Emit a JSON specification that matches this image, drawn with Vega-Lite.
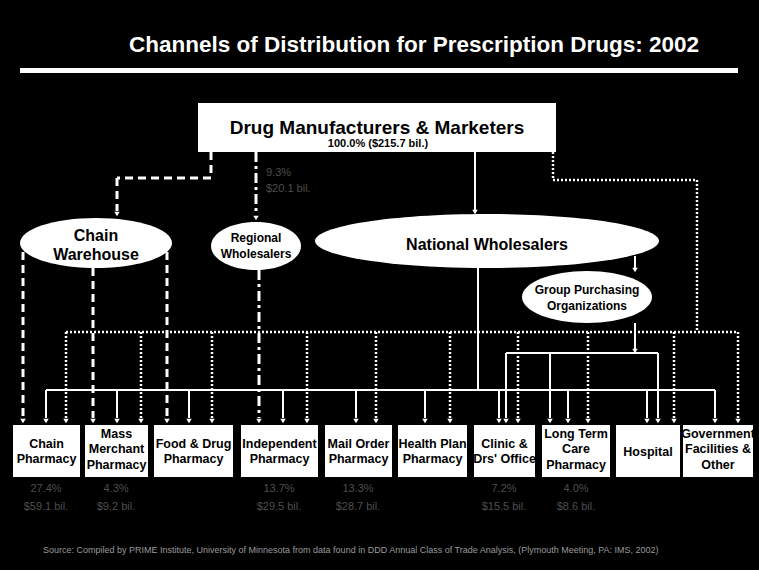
{
  "$schema": "https://vega.github.io/schema/vega-lite/v6.json",
  "width": 759,
  "height": 570,
  "autosize": {"type": "fit", "contains": "padding"},
  "padding": 0,
  "background": "#000000",
  "config": {"view": {"stroke": null}, "text": {"font": "Liberation Sans"}},
  "datasets": {
    "rects": [
      {"x": 20, "x2": 738, "y": 68, "y2": 73},
      {"x": 198, "x2": 556, "y": 103, "y2": 152},
      {"x": 13, "x2": 80, "y": 425, "y2": 477},
      {"x": 85, "x2": 148, "y": 425, "y2": 477},
      {"x": 154, "x2": 233, "y": 425, "y2": 477},
      {"x": 241, "x2": 318, "y": 425, "y2": 477},
      {"x": 325, "x2": 392, "y": 425, "y2": 477},
      {"x": 398, "x2": 467, "y": 425, "y2": 477},
      {"x": 474, "x2": 535, "y": 425, "y2": 477},
      {"x": 542, "x2": 610, "y": 425, "y2": 477},
      {"x": 616, "x2": 680, "y": 425, "y2": 477},
      {"x": 683, "x2": 753, "y": 425, "y2": 477}
    ],
    "solid": [
      {"x": 475, "y": 152, "x2": 475, "y2": 210},
      {"x": 478, "y": 268, "x2": 478, "y2": 390},
      {"x": 46, "y": 390, "x2": 715, "y2": 390},
      {"x": 46, "y": 390, "x2": 46, "y2": 418},
      {"x": 117, "y": 390, "x2": 117, "y2": 418},
      {"x": 189, "y": 390, "x2": 189, "y2": 418},
      {"x": 283, "y": 390, "x2": 283, "y2": 418},
      {"x": 356, "y": 390, "x2": 356, "y2": 418},
      {"x": 425, "y": 390, "x2": 425, "y2": 418},
      {"x": 499, "y": 390, "x2": 499, "y2": 418},
      {"x": 568, "y": 390, "x2": 568, "y2": 418},
      {"x": 647, "y": 390, "x2": 647, "y2": 418},
      {"x": 715, "y": 390, "x2": 715, "y2": 418},
      {"x": 635, "y": 256, "x2": 635, "y2": 268},
      {"x": 635, "y": 323, "x2": 635, "y2": 349},
      {"x": 506, "y": 353, "x2": 658, "y2": 353},
      {"x": 506, "y": 353, "x2": 506, "y2": 418},
      {"x": 550, "y": 353, "x2": 550, "y2": 418},
      {"x": 658, "y": 353, "x2": 658, "y2": 418}
    ],
    "dashed": [
      {"x": 211, "y": 152, "x2": 211, "y2": 178},
      {"x": 211, "y": 178, "x2": 117, "y2": 178},
      {"x": 117, "y": 178, "x2": 117, "y2": 211},
      {"x": 23, "y": 252, "x2": 23, "y2": 418},
      {"x": 93, "y": 268, "x2": 93, "y2": 418},
      {"x": 167, "y": 252, "x2": 167, "y2": 418}
    ],
    "dashdot": [
      {"x": 256, "y": 152, "x2": 256, "y2": 215},
      {"x": 259, "y": 270, "x2": 259, "y2": 418}
    ],
    "dotted": [
      {"x": 553, "y": 152, "x2": 553, "y2": 180},
      {"x": 553, "y": 180, "x2": 697, "y2": 180},
      {"x": 697, "y": 180, "x2": 697, "y2": 332},
      {"x": 66, "y": 332, "x2": 738, "y2": 332},
      {"x": 66, "y": 332, "x2": 66, "y2": 418},
      {"x": 141, "y": 332, "x2": 141, "y2": 418},
      {"x": 212, "y": 332, "x2": 212, "y2": 418},
      {"x": 307, "y": 332, "x2": 307, "y2": 418},
      {"x": 376, "y": 332, "x2": 376, "y2": 418},
      {"x": 450, "y": 332, "x2": 450, "y2": 418},
      {"x": 518, "y": 332, "x2": 518, "y2": 418},
      {"x": 588, "y": 332, "x2": 588, "y2": 418},
      {"x": 674, "y": 332, "x2": 674, "y2": 418},
      {"x": 738, "y": 332, "x2": 738, "y2": 418}
    ],
    "arrows": [
      {"x": 23, "y": 421}, {"x": 46, "y": 421}, {"x": 66, "y": 421}, {"x": 93, "y": 421},
      {"x": 117, "y": 421}, {"x": 141, "y": 421}, {"x": 167, "y": 421}, {"x": 189, "y": 421},
      {"x": 212, "y": 421}, {"x": 259, "y": 421}, {"x": 283, "y": 421}, {"x": 307, "y": 421},
      {"x": 356, "y": 421}, {"x": 376, "y": 421}, {"x": 425, "y": 421}, {"x": 450, "y": 421},
      {"x": 499, "y": 421}, {"x": 506, "y": 421}, {"x": 518, "y": 421}, {"x": 550, "y": 421},
      {"x": 568, "y": 421}, {"x": 588, "y": 421}, {"x": 647, "y": 421}, {"x": 658, "y": 421},
      {"x": 674, "y": 421}, {"x": 715, "y": 421}, {"x": 738, "y": 421},
      {"x": 117, "y": 214}, {"x": 256, "y": 218}, {"x": 475, "y": 212},
      {"x": 635, "y": 270}, {"x": 635, "y": 351}
    ],
    "title": [{"x": 414, "y": 52, "t": "Channels of Distribution for Prescription Drugs: 2002"}],
    "topMain": [{"x": 377, "y": 134, "t": "Drug Manufacturers & Marketers"}],
    "topSub": [{"x": 378, "y": 147, "t": "100.0% ($215.7 bil.)"}],
    "bigEllipseText": [
      {"x": 96, "y": 241, "t": "Chain"},
      {"x": 96, "y": 260, "t": "Warehouse"},
      {"x": 487, "y": 250, "t": "National Wholesalers"}
    ],
    "smallEllipseText": [
      {"x": 256, "y": 242, "t": "Regional"},
      {"x": 256, "y": 258, "t": "Wholesalers"},
      {"x": 587, "y": 294, "t": "Group Purchasing"},
      {"x": 587, "y": 310, "t": "Organizations"}
    ],
    "boxText": [
      {"x": 46.5, "y": 448, "t": "Chain"}, {"x": 46.5, "y": 463, "t": "Pharmacy"},
      {"x": 116.5, "y": 438, "t": "Mass"}, {"x": 116.5, "y": 453, "t": "Merchant"}, {"x": 116.5, "y": 469, "t": "Pharmacy"},
      {"x": 193.5, "y": 448, "t": "Food & Drug"}, {"x": 193.5, "y": 463, "t": "Pharmacy"},
      {"x": 279.5, "y": 448, "t": "Independent"}, {"x": 279.5, "y": 463, "t": "Pharmacy"},
      {"x": 358.5, "y": 448, "t": "Mail Order"}, {"x": 358.5, "y": 463, "t": "Pharmacy"},
      {"x": 432.5, "y": 448, "t": "Health Plan"}, {"x": 432.5, "y": 463, "t": "Pharmacy"},
      {"x": 504.5, "y": 448, "t": "Clinic &"}, {"x": 504.5, "y": 463, "t": "Drs' Office"},
      {"x": 576, "y": 438, "t": "Long Term"}, {"x": 576, "y": 453, "t": "Care"}, {"x": 576, "y": 469, "t": "Pharmacy"},
      {"x": 648, "y": 456, "t": "Hospital"},
      {"x": 718, "y": 438, "t": "Government"}, {"x": 718, "y": 453, "t": "Facilities &"}, {"x": 718, "y": 469, "t": "Other"}
    ],
    "pct": [
      {"x": 46, "y": 492, "t": "27.4%"}, {"x": 46, "y": 510, "t": "$59.1 bil."},
      {"x": 116, "y": 492, "t": "4.3%"}, {"x": 116, "y": 510, "t": "$9.2 bil."},
      {"x": 279, "y": 492, "t": "13.7%"}, {"x": 279, "y": 510, "t": "$29.5 bil."},
      {"x": 358, "y": 492, "t": "13.3%"}, {"x": 358, "y": 510, "t": "$28.7 bil."},
      {"x": 504, "y": 492, "t": "7.2%"}, {"x": 504, "y": 510, "t": "$15.5 bil."},
      {"x": 576, "y": 492, "t": "4.0%"}, {"x": 576, "y": 510, "t": "$8.6 bil."}
    ],
    "pctLeft": [
      {"x": 266, "y": 176, "t": "9.3%"}, {"x": 266, "y": 192, "t": "$20.1 bil."}
    ],
    "source": [{"x": 43, "y": 553, "t": "Source: Compiled by PRIME Institute, University of Minnesota from data found in DDD Annual Class of Trade Analysis, (Plymouth Meeting, PA: IMS, 2002)"}]
  },
  "encoding": {
    "x": {"field": "x", "type": "quantitative", "scale": {"domain": [0, 759], "nice": false, "zero": false}, "axis": null},
    "y": {"field": "y", "type": "quantitative", "scale": {"domain": [0, 570], "nice": false, "zero": false, "reverse": true}, "axis": null}
  },
  "layer": [
    {"data": {"name": "rects"}, "mark": {"type": "rect", "color": "#ffffff"}, "encoding": {"x2": {"field": "x2"}, "y2": {"field": "y2"}}},
    {"data": {"values": [{"x": 96, "y": 243}]}, "mark": {"type": "point", "shape": "M-1,0C-1,-0.1817 -0.5523,-0.329 0,-0.329C0.5523,-0.329 1,-0.1817 1,0C1,0.1817 0.5523,0.329 0,0.329C-0.5523,0.329 -1,0.1817 -1,0Z", "size": 23104, "filled": true, "fill": "#ffffff", "opacity": 1, "strokeWidth": 0}},
    {"data": {"values": [{"x": 256, "y": 246}]}, "mark": {"type": "point", "shape": "M-1,0C-1,-0.2944 -0.5523,-0.533 0,-0.533C0.5523,-0.533 1,-0.2944 1,0C1,0.2944 0.5523,0.533 0,0.533C-0.5523,0.533 -1,0.2944 -1,0Z", "size": 8100, "filled": true, "fill": "#ffffff", "opacity": 1, "strokeWidth": 0}},
    {"data": {"values": [{"x": 487, "y": 241}]}, "mark": {"type": "point", "shape": "M-1,0C-1,-0.0867 -0.5523,-0.157 0,-0.157C0.5523,-0.157 1,-0.0867 1,0C1,0.0867 0.5523,0.157 0,0.157C-0.5523,0.157 -1,0.0867 -1,0Z", "size": 118336, "filled": true, "fill": "#ffffff", "opacity": 1, "strokeWidth": 0}},
    {"data": {"values": [{"x": 587, "y": 297}]}, "mark": {"type": "point", "shape": "M-1,0C-1,-0.2209 -0.5523,-0.4 0,-0.4C0.5523,-0.4 1,-0.2209 1,0C1,0.2209 0.5523,0.4 0,0.4C-0.5523,0.4 -1,0.2209 -1,0Z", "size": 16900, "filled": true, "fill": "#ffffff", "opacity": 1, "strokeWidth": 0}},
    {"data": {"name": "solid"}, "mark": {"type": "rule", "color": "#ffffff", "strokeWidth": 2}, "encoding": {"x2": {"field": "x2"}, "y2": {"field": "y2"}}},
    {"data": {"name": "dashed"}, "mark": {"type": "rule", "color": "#ffffff", "strokeWidth": 3, "strokeDash": [8, 5]}, "encoding": {"x2": {"field": "x2"}, "y2": {"field": "y2"}}},
    {"data": {"name": "dashdot"}, "mark": {"type": "rule", "color": "#ffffff", "strokeWidth": 3, "strokeDash": [10, 4, 3, 4]}, "encoding": {"x2": {"field": "x2"}, "y2": {"field": "y2"}}},
    {"data": {"name": "dotted"}, "mark": {"type": "rule", "color": "#ffffff", "strokeWidth": 2.5, "strokeDash": [2, 2]}, "encoding": {"x2": {"field": "x2"}, "y2": {"field": "y2"}}},
    {"data": {"name": "arrows"}, "mark": {"type": "point", "shape": "triangle-down", "size": 30, "filled": true, "fill": "#ffffff", "opacity": 1, "strokeWidth": 0}},
    {"data": {"name": "title"}, "mark": {"type": "text", "color": "#ffffff", "fontSize": 22.5, "fontWeight": "bold", "align": "center", "baseline": "alphabetic"}, "encoding": {"text": {"field": "t"}}},
    {"data": {"name": "topMain"}, "mark": {"type": "text", "color": "#000000", "fontSize": 19, "fontWeight": "bold", "align": "center", "baseline": "alphabetic"}, "encoding": {"text": {"field": "t"}}},
    {"data": {"name": "topSub"}, "mark": {"type": "text", "color": "#000000", "fontSize": 11, "fontWeight": "bold", "align": "center", "baseline": "alphabetic"}, "encoding": {"text": {"field": "t"}}},
    {"data": {"name": "bigEllipseText"}, "mark": {"type": "text", "color": "#000000", "fontSize": 16, "fontWeight": "bold", "align": "center", "baseline": "alphabetic"}, "encoding": {"text": {"field": "t"}}},
    {"data": {"name": "smallEllipseText"}, "mark": {"type": "text", "color": "#000000", "fontSize": 12, "fontWeight": "bold", "align": "center", "baseline": "alphabetic"}, "encoding": {"text": {"field": "t"}}},
    {"data": {"name": "boxText"}, "mark": {"type": "text", "color": "#000000", "fontSize": 12.5, "fontWeight": "bold", "align": "center", "baseline": "alphabetic"}, "encoding": {"text": {"field": "t"}}},
    {"data": {"name": "pct"}, "mark": {"type": "text", "color": "#4e4e4e", "fontSize": 11, "align": "center", "baseline": "alphabetic"}, "encoding": {"text": {"field": "t"}}},
    {"data": {"name": "pctLeft"}, "mark": {"type": "text", "color": "#4e4e4e", "fontSize": 11, "align": "left", "baseline": "alphabetic"}, "encoding": {"text": {"field": "t"}}},
    {"data": {"name": "source"}, "mark": {"type": "text", "color": "#9a9a9a", "fontSize": 9, "align": "left", "baseline": "alphabetic"}, "encoding": {"text": {"field": "t"}}}
  ]
}
